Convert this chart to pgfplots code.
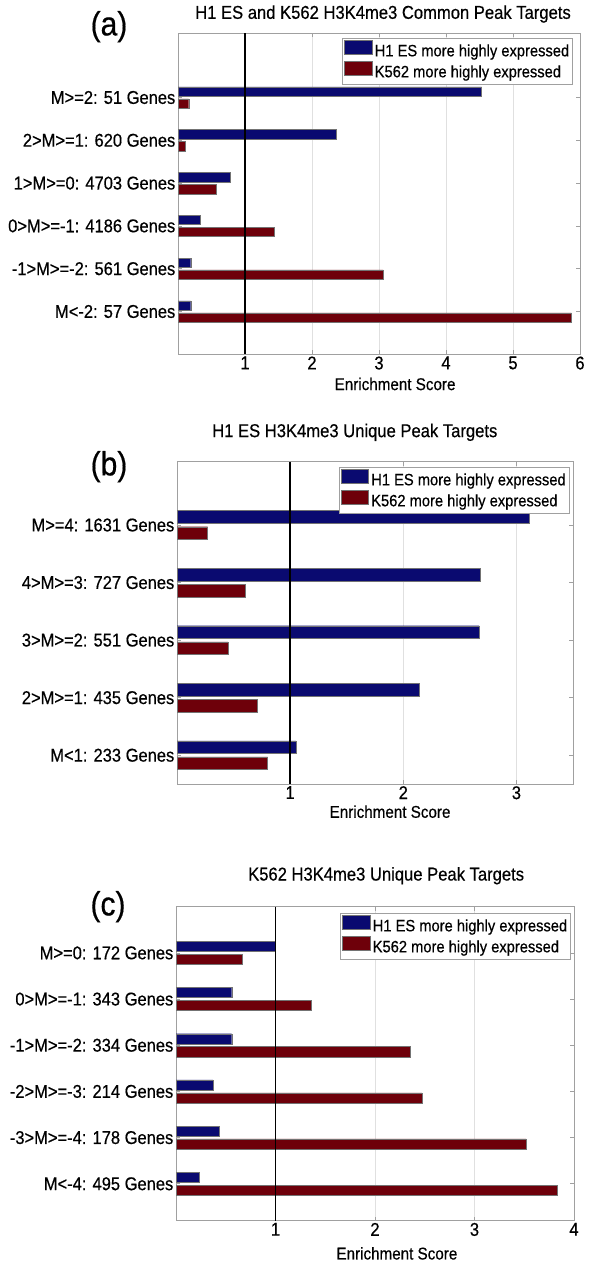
\documentclass[border=0pt]{standalone}
\usepackage{fontspec}
\setmainfont{Liberation Sans}[FakeBold=0.5]
\usepackage{graphicx}
\usepackage{pgfplots}
\pgfplotsset{compat=1.18}
\newcommand\V[1]{\scalebox{1}[1.12]{#1}}
\definecolor{h1blue}{RGB}{10,10,112}
\definecolor{kred}{RGB}{110,0,10}
\definecolor{frame}{RGB}{160,160,160}
\pgfplotsset{
  enrich/.style={
    scale only axis, anchor=north west,
    y dir=reverse,
    axis line style={frame, line width=0.9pt},
    tick style={frame, line width=0.6pt},
    tick align=inside, major tick length=4pt,
    xmajorgrids, grid style={black!12, line width=0.6pt},
    /pgf/number format/assume math mode=true,
    ticklabel style={font=\fontsize{16.5}{19}\selectfont},
    yticklabel style={inner sep=2.5pt},
    xticklabel style={inner sep=2pt},
    xticklabel={\V{\pgfmathprintnumber{\tick}}},
    title style={font=\fontsize{16.6}{19}\selectfont, anchor=center},
    xlabel style={font=\fontsize{15.2}{18}\selectfont, anchor=center},
    legend cell align=left,
    legend image code/.code={\fill[##1] (0pt,-1.8pt) rectangle (27.5pt,12pt);},
    legend style={draw=frame, line width=0.8pt, fill=white, inner sep=2pt,
      anchor=north east, column sep=1pt,
      nodes={font=\fontsize{14.7}{17}\selectfont, inner sep=1.4pt, text height=11.4pt, text depth=3.4pt}},
  },
  bluebar/.style={xbar, bar width=0.22, fill=h1blue, draw=black!55, line width=0.4pt, bar shift=-0.14},
  redbar/.style={xbar, bar width=0.22, fill=kred, draw=black!55, line width=0.4pt, bar shift=0.14},
  oneline/.style={black, line width=1.6pt, forget plot, sharp plot, no markers},
}
\begin{document}
\begin{tikzpicture}
\useasboundingbox (0,0) rectangle (600pt,-1265pt);
% ---------------- (a)
\begin{axis}[enrich,
  at={(178pt,-33.3pt)}, width=402pt, height=321pt,
  xmin=0, xmax=6, ymin=-0.5, ymax=7,
  xtick={1,2,3,4,5,6},
  ytick={1,2,3,4,5,6},
  yticklabels={\V{M>=2: 51 Genes}, \V{2>M>=1: 620 Genes}, \V{1>M>=0: 4703 Genes}, \V{0>M>=-1: 4186 Genes}, \V{-1>M>=-2: 561 Genes}, \V{M<-2: 57 Genes}},
  title={\V{H1 ES and K562 H3K4me3 Common Peak Targets}},
  title style={at={(axis description cs:0.51,1.0414)}},
  xlabel={\V{Enrichment Score}},
  xlabel style={at={(axis description cs:0.54,-0.0925)}},
  legend style={at={(axis description cs:1,1)}, xshift=-7pt, yshift=-4.4pt},
]
\addplot[bluebar] coordinates {(4.53,1) (2.36,2) (0.78,3) (0.33,4) (0.19,5) (0.19,6)};
\addplot[redbar] coordinates {(0.16,1) (0.11,2) (0.57,3) (1.43,4) (3.06,5) (5.87,6)};
\legend{\V{H1 ES more highly expressed}, \V{K562 more highly expressed}}
\addplot[oneline] coordinates {(1,-0.5) (1,7)};
\end{axis}
\node[font=\fontsize{30}{34}\selectfont] at (109pt,-26.7pt) {\V{(a)}};
% ---------------- (b)
\begin{axis}[enrich,
  at={(177pt,-461.7pt)}, width=396pt, height=322.3pt,
  xmin=0, xmax=3.5, ymin=-0.1, ymax=5.5,
  xtick={1,2,3},
  ytick={1,2,3,4,5},
  yticklabels={\V{M>=4: 1631 Genes}, \V{4>M>=3: 727 Genes}, \V{3>M>=2: 551 Genes}, \V{2>M>=1: 435 Genes}, \V{M<1: 233 Genes}},
  title={\V{H1 ES H3K4me3 Unique Peak Targets}},
  title style={at={(axis description cs:0.449,1.0726)}},
  xlabel={\V{Enrichment Score}},
  xlabel style={at={(axis description cs:0.538,-0.0859)}},
  legend style={at={(axis description cs:1,1)}, xshift=-3.5pt, yshift=-5pt},
]
\addplot[bluebar] coordinates {(3.11,1) (2.68,2) (2.67,3) (2.14,4) (1.05,5)};
\addplot[redbar] coordinates {(0.27,1) (0.60,2) (0.45,3) (0.71,4) (0.80,5)};
\legend{\V{H1 ES more highly expressed}, \V{K562 more highly expressed}}
\addplot[oneline] coordinates {(1,-0.1) (1,5.5)};
\end{axis}
\node[font=\fontsize{30}{34}\selectfont] at (109pt,-466.7pt) {\V{(b)}};
% ---------------- (c)
\begin{axis}[enrich,
  at={(176pt,-906.7pt)}, width=398pt, height=314pt,
  xmin=0, xmax=4, ymin=0, ymax=6.8,
  xtick={1,2,3,4},
  ytick={1,2,3,4,5,6},
  yticklabels={\V{M>=0: 172 Genes}, \V{0>M>=-1: 343 Genes}, \V{-1>M>=-2: 334 Genes}, \V{-2>M>=-3: 214 Genes}, \V{-3>M>=-4: 178 Genes}, \V{M<-4: 495 Genes}},
  title={\V{K562 H3K4me3 Unique Peak Targets}},
  title style={at={(axis description cs:0.528,1.0796)}},
  xlabel={\V{Enrichment Score}},
  xlabel style={at={(axis description cs:0.555,-0.104)}},
  legend style={at={(axis description cs:1,1)}, xshift=-3pt, yshift=-6pt},
]
\addplot[bluebar] coordinates {(1.00,1) (0.56,2) (0.56,3) (0.37,4) (0.43,5) (0.23,6)};
\addplot[redbar] coordinates {(0.67,1) (1.355,2) (2.35,3) (2.47,4) (3.52,5) (3.83,6)};
\legend{\V{H1 ES more highly expressed}, \V{K562 more highly expressed}}
\addplot[oneline] coordinates {(1,0) (1,6.8)};
\end{axis}
\node[font=\fontsize{30}{34}\selectfont] at (108pt,-906.7pt) {\V{(c)}};
\end{tikzpicture}
\end{document}
